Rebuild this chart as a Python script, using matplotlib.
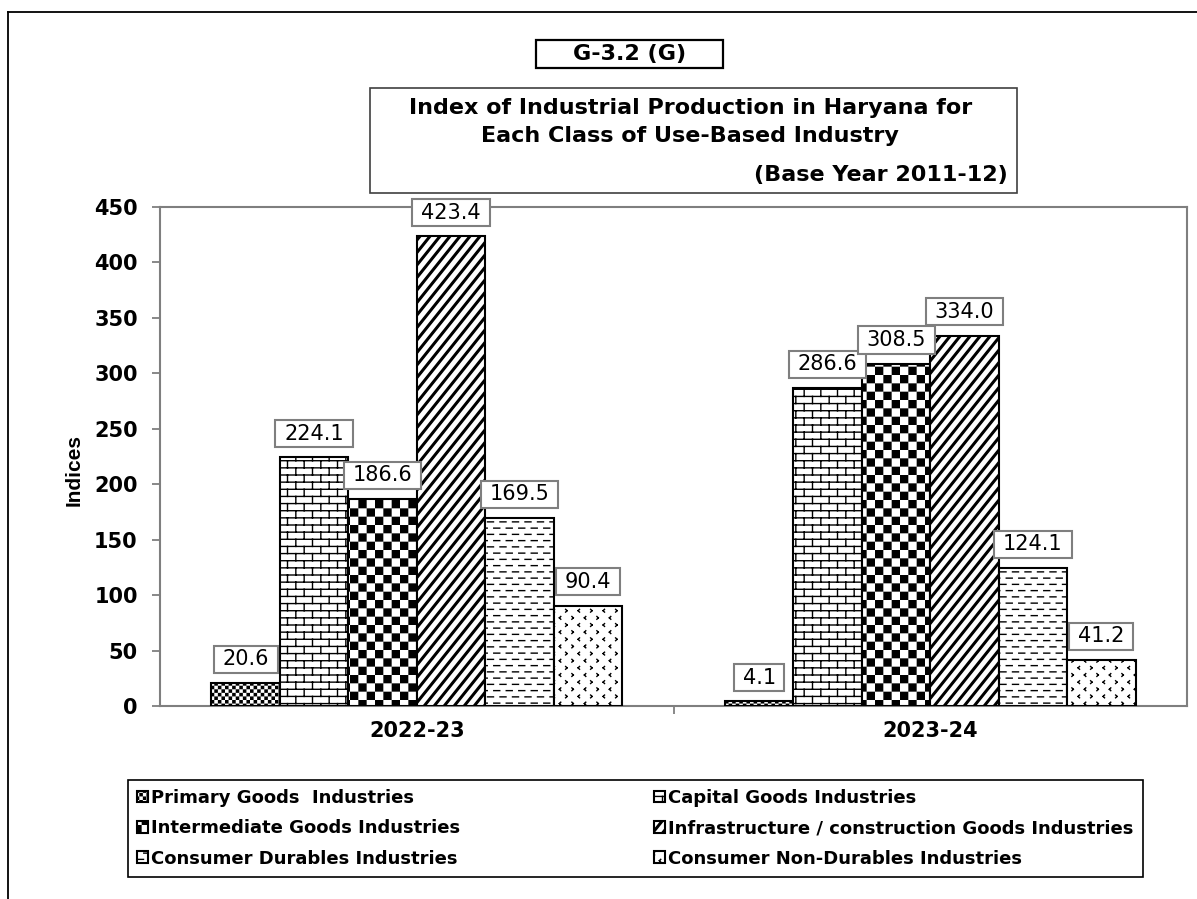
import numpy as np
import matplotlib
matplotlib.use("Agg")
import matplotlib.pyplot as plt
import matplotlib.hatch as mhatch
from matplotlib.path import Path
from matplotlib.patches import Rectangle
from matplotlib.lines import Line2D

# ---------------- data ----------------
years = ["2022-23", "2023-24"]
series_names = [
    "Primary Goods  Industries",
    "Capital Goods Industries",
    "Intermediate Goods Industries",
    "Infrastructure / construction Goods Industries",
    "Consumer Durables Industries",
    "Consumer Non-Durables Industries",
]
primary = [20.6, 4.1]
capital = [224.1, 286.6]
intermediate = [186.6, 308.5]
infrastructure = [423.4, 334.0]
durables = [169.5, 124.1]
nondurables = [90.4, 41.2]
y_ticks = [0, 50, 100, 150, 200, 250, 300, 350, 400, 450]

# ---------------- custom hatch patterns ----------------
MOVE, LINE, CLOSE = Path.MOVETO, Path.LINETO, Path.CLOSEPOLY


def _rect(v, c, x0, y0, x1, y1):
    v += [(x0, y0), (x1, y0), (x1, y1), (x0, y1), (x0, y0)]
    c += [MOVE, LINE, LINE, LINE, CLOSE]


def _seg(v, c, x0, y0, x1, y1):
    v += [(x0, y0), (x1, y1)]
    c += [MOVE, LINE]


def checker(n, shrink):
    v, c = [], []
    s = 1.0 / n
    for i in range(n):
        for j in range(n):
            if (i + j) % 2 == 0:
                _rect(v, c, i * s + shrink, j * s + shrink,
                      (i + 1) * s - shrink, (j + 1) * s - shrink)
    return v, c


def brick(rows, cols):
    v, c = [], []
    h = 1.0 / rows
    wb = 1.0 / cols
    for k in range(-1, rows + 1):
        y = (k + 0.5) * h
        _seg(v, c, -0.05, y, 1.05, y)
        off = 0.5 * (k % 2)
        for m in range(-1, cols + 1):
            x = (m + off + 0.25) * wb
            _seg(v, c, x, y, x, y + h)
    return v, c


def diag(slope, nper, t):
    v, c = [], []
    for j in range(-int(slope * nper) - 3, nper + 3):
        cc = j / nper
        x0, x1 = -0.1, 1.1
        v += [(x0, slope * x0 + cc), (x1, slope * x1 + cc),
              (x1, slope * x1 + cc + t), (x0, slope * x0 + cc + t),
              (x0, slope * x0 + cc)]
        c += [MOVE, LINE, LINE, LINE, CLOSE]
    return v, c


def dashes(rows, per, length):
    v, c = [], []
    for k in range(rows):
        y = (k + 0.5) / rows
        off = 0.5 * (k % 2)
        for m in range(-1, per + 1):
            x = (m + off) / per
            _seg(v, c, x, y, x + length, y)
    return v, c


def chevrons(rows, cols, d):
    v, c = [], []
    for k in range(rows):
        y = (k + 0.5) / rows
        off = 0.5 * (k % 2)
        for m in range(-1, cols + 1):
            x = (m + off + 0.25) / cols
            if m % 2 == 0:
                _seg(v, c, x + d, y + d, x, y)
                _seg(v, c, x, y, x + d, y - d)
            else:
                _seg(v, c, x, y + d, x + d, y)
                _seg(v, c, x + d, y, x, y - d)
    return v, c


PATTERNS = {
    "**": checker(28, 0.007),      # primary: fine checker
    "+": brick(14, 6),             # capital: brick
    "*": checker(12, 0.007),       # intermediate: big checker
    "/": diag(1.25, 8, 0.026),     # infrastructure: wide diagonal
    "-": dashes(16, 8, 0.06),      # durables: dashed horizontal
    ".": chevrons(14, 8, 0.014),   # non-durables: small chevrons
}


class CustomHatch(mhatch.HatchPatternBase):
    def __init__(self, hatch, density):
        v, c = PATTERNS.get(hatch, ([], []))
        self._v = np.asarray(v, dtype=float).reshape(-1, 2)
        self._c = np.asarray(c, dtype=Path.code_type)
        self.num_vertices = len(self._v)

    def set_vertices_and_codes(self, vertices, codes):
        vertices[:] = self._v
        codes[:] = self._c


mhatch._hatch_types = [CustomHatch]
plt.rcParams["hatch.linewidth"] = 1.0
plt.rcParams["font.family"] = ["DejaVu Sans"]

hatches = ["**", "+", "*", "/", "-", "."]
series_values = [primary, capital, intermediate, infrastructure, durables, nondurables]


def label_box(x0, y0, width, height, mutation_size):
    padx = 0.42 * mutation_size
    pady = 0.17 * mutation_size
    x0 -= padx
    y0 -= pady
    x1 = x0 + width + 2 * padx
    y1 = y0 + height + 2 * pady
    return Path([(x0, y0), (x1, y0), (x1, y1), (x0, y1), (x0, y0)],
                [MOVE, LINE, LINE, LINE, CLOSE])


# ---------------- figure ----------------
W, H = 1197, 899
fig = plt.figure(figsize=(W / 100, H / 100), dpi=100)
ax = fig.add_axes([160 / W, 1 - 706 / H, (1187 - 160) / W, (706 - 207) / H])

x = np.arange(len(years))
n = len(series_values)
bw = 0.8 / n
bars = []
for i, (vals, h, name) in enumerate(zip(series_values, hatches, series_names)):
    b = ax.bar(x + (i - (n - 1) / 2) * bw, vals, bw, color="white",
               edgecolor="black", linewidth=1.5, hatch=h, label=name, zorder=3)
    bars.append(b)
    for xi, val in zip(x + (i - (n - 1) / 2) * bw, vals):
        ax.annotate(f"{val:.1f}", xy=(xi, val), xytext=(0, 10),
                    textcoords="offset points", ha="center", va="bottom",
                    fontsize=15, zorder=5,
                    bbox=dict(boxstyle=label_box, fc="white",
                              ec="#7f7f7f", lw=1.5))

ax.set_xlim(-0.5, len(years) - 0.5)
ax.set_ylim(0, 450)
ax.set_yticks(y_ticks)
ax.set_yticklabels([str(t) for t in y_ticks], fontsize=15, fontweight="bold")
ax.tick_params(axis="y", length=6, width=1.3, color="#7f7f7f", pad=10)

ax.set_xticks([0.5])
ax.set_xticklabels([""])
ax.tick_params(axis="x", which="major", length=6, width=1.3, color="#7f7f7f")
ax.set_xticks(x, minor=True)
ax.set_xticklabels(years, minor=True, fontsize=15, fontweight="bold")
ax.tick_params(axis="x", which="minor", length=0, pad=11)

for sp in ax.spines.values():
    sp.set_color("#7f7f7f")
    sp.set_linewidth(1.5)

fig.text(74 / W, 1 - 470 / H, "Indices", rotation=90, ha="center",
         va="center", fontsize=15, fontweight="bold",
         family=["Liberation Sans", "DejaVu Sans"])

# ---------------- header boxes ----------------
fig.add_artist(Line2D([8 / W, 1.01], [1 - 12 / H, 1 - 12 / H],
                      transform=fig.transFigure, color="black", lw=1.3))
fig.add_artist(Line2D([8 / W, 8 / W], [1 - 12 / H, -0.01],
                      transform=fig.transFigure, color="black", lw=1.3))

fig.add_artist(Rectangle((536 / W, 1 - 68 / H), 187 / W, 28 / H,
                         transform=fig.transFigure, fill=False,
                         ec="black", lw=1.6))
fig.text(629.5 / W, 1 - 54 / H, "G-3.2 (G)", ha="center", va="center",
         fontsize=16, fontweight="bold")

fig.add_artist(Rectangle((370 / W, 1 - 193 / H), 647 / W, 105 / H,
                         transform=fig.transFigure, fill=False,
                         ec="#404040", lw=1.2))
fig.text(691 / W, 1 - 108 / H, "Index of Industrial Production in Haryana for",
         ha="center", va="center", fontsize=16, fontweight="bold")
fig.text(690 / W, 1 - 136 / H, "Each Class of Use-Based Industry",
         ha="center", va="center", fontsize=16, fontweight="bold")
fig.text(1008 / W, 1 - 175 / H, "(Base Year 2011-12)",
         ha="right", va="center", fontsize=16, fontweight="bold")

# ---------------- legend (row-major order) ----------------
order = [0, 2, 4, 1, 3, 5]
leg = fig.legend([bars[i] for i in order], [series_names[i] for i in order],
                 loc="upper left", bbox_to_anchor=(128 / W, 1 - 780 / H),
                 bbox_transform=fig.transFigure, borderaxespad=0, ncol=2,
                 frameon=True, fancybox=False, edgecolor="black",
                 prop=dict(size=13, weight="bold"),
                 handlelength=0.6, handleheight=0.6, handletextpad=0.2,
                 columnspacing=10.7, labelspacing=0.68, borderpad=0.5)
leg.get_frame().set_linewidth(1.2)
leg.get_frame().set_alpha(None)

fig.savefig("out.png", dpi=100)
